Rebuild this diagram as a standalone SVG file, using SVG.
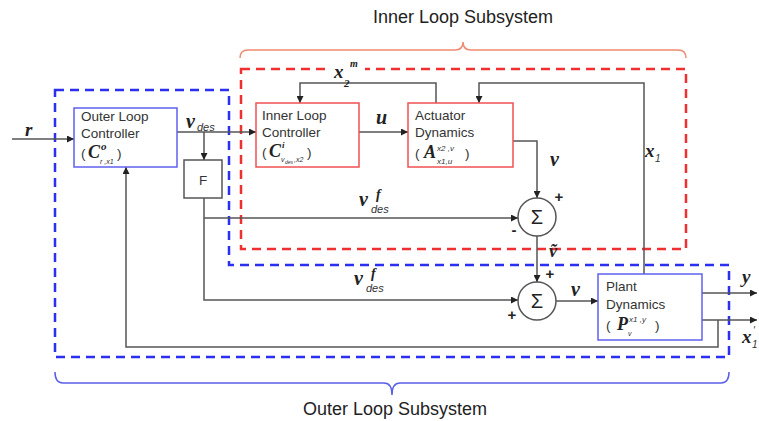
<svg xmlns="http://www.w3.org/2000/svg" width="759" height="421" viewBox="0 0 759 421">
<style>
.bx{font-family:"Liberation Sans",Arial,sans-serif;font-size:13.5px;fill:#333}
.m{font-family:"Liberation Serif","Times New Roman",serif;font-style:italic;font-weight:bold;fill:#222}
.s{font-family:"Liberation Sans",Arial,sans-serif;font-style:italic;fill:#333}
.c{fill:none;stroke:#555;stroke-width:1.5}
.lbl{font-family:"Liberation Sans",Arial,sans-serif;font-size:18px;fill:#222;text-anchor:middle}
.pm{font-family:"Liberation Sans",Arial,sans-serif;font-size:15px;font-weight:bold;fill:#222;text-anchor:middle}
.sig{font-family:"Liberation Sans",Arial,sans-serif;font-size:20px;fill:#222;text-anchor:middle}
</style>
<defs>
<marker id="ar" viewBox="0 0 10 10" refX="10" refY="5" markerWidth="7" markerHeight="7" markerUnits="userSpaceOnUse" orient="auto">
<path d="M0,0 L10,5 L0,10 z" fill="#222"/>
</marker>
</defs>
<rect width="759" height="421" fill="#fff"/>

<g id="outer-loop-region">
<path d="M55,90 H229 V265 H729 V357 H55 Z" fill="none" stroke="#2b2ff0" stroke-width="2.5" stroke-dasharray="9,6"/>
<path d="M55,372 Q55,383 63,383 H384 Q392,383 392,395 Q392,383 400,383 H721 Q729,383 729,372" fill="none" stroke="#5a60e8" stroke-width="1.5"/>
<text class="lbl" x="395" y="415">Outer Loop Subsystem</text>
</g>

<g id="inner-loop-region">
<rect x="241" y="69" width="445" height="180" fill="none" stroke="#f03030" stroke-width="2.5" stroke-dasharray="9,6"/>
<path d="M240,58 Q240,50 248,50 H455 Q463,50 463,42 Q463,50 471,50 H678 Q686,50 686,58" fill="none" stroke="#f08a70" stroke-width="1.5"/>
<text class="lbl" x="463" y="23">Inner Loop Subsystem</text>
</g>

<g id="connectors">
<path class="c" d="M12,139 H74" marker-end="url(#ar)"/>
<path class="c" d="M177,132 H256" marker-end="url(#ar)"/>
<path class="c" d="M204,132 V160" marker-end="url(#ar)"/>
<path class="c" d="M204,198 V300 H518" marker-end="url(#ar)"/>
<path class="c" d="M204,218 H518" marker-end="url(#ar)"/>
<path class="c" d="M359,132 H408" marker-end="url(#ar)"/>
<path class="c" d="M436,103 V83 H300 V103" marker-end="url(#ar)"/>
<path class="c" d="M644,274 V83 H479 V103" marker-end="url(#ar)"/>
<path class="c" d="M513,141 H537 V198" marker-end="url(#ar)"/>
<path class="c" d="M537,236 V282" marker-end="url(#ar)"/>
<path class="c" d="M556,301 H598" marker-end="url(#ar)"/>
<path class="c" d="M702,293 H757" marker-end="url(#ar)"/>
<path class="c" d="M702,320 H757" marker-end="url(#ar)"/>
<path class="c" d="M718,320 V347 H126 V167" marker-end="url(#ar)"/>
</g>

<g id="labels">
<text class="m" x="25" y="136" font-size="19">r</text>
<text class="m" x="186" y="128" font-size="20">v</text>
<text class="s" x="197" y="131" font-size="11">des</text>
<text class="m" x="376" y="124" font-size="20">u</text>
<text class="m" x="550" y="166" font-size="20">v</text>
<text class="m" x="359" y="206" font-size="20">v</text>
<text class="m" x="376" y="199" font-size="14">f</text>
<text class="s" x="371" y="213" font-size="11">des</text>
<text class="m" x="354" y="285" font-size="20">v</text>
<text class="m" x="371" y="278" font-size="14">f</text>
<text class="s" x="366" y="292" font-size="11">des</text>
<text class="m" x="549" y="257" font-size="18">v&#x303;</text>
<text class="m" x="571" y="296" font-size="20">v</text>
<text class="m" x="645" y="157" font-size="19">x</text>
<text class="s" x="655" y="162" font-size="10">1</text>
<text class="m" x="742" y="283" font-size="19">y</text>
<text class="m" x="742" y="343" font-size="19">x</text>
<text class="s" x="752" y="348" font-size="10">1</text>
<text class="s" x="753" y="334" font-size="10">'</text>
<rect x="331" y="64" width="34" height="10" fill="#fff"/>
<text class="m" x="334" y="78" font-size="19">x</text>
<text class="m" x="344" y="87" font-size="11">2</text>
<text class="m" x="350" y="67" font-size="10">m</text>
<text class="pm" x="559" y="202">+</text>
<text class="pm" x="514" y="235">-</text>
<text class="pm" x="550" y="279">+</text>
<text class="pm" x="512" y="320">+</text>
</g>

<g id="outer-loop-controller">
<rect x="74" y="108" width="103" height="59" fill="#fff" stroke="#6060f0" stroke-width="1.5"/>
<text class="bx" x="81" y="121">Outer Loop</text>
<text class="bx" x="81" y="138">Controller</text>
<text class="bx" x="81" y="158">(</text>
<text class="m" x="88" y="158" font-size="18">C</text>
<text class="m" x="101" y="150" font-size="11">o</text>
<text class="s" x="100" y="164" font-size="7">r ,x1</text>
<text class="bx" x="117" y="158">)</text>
</g>

<g id="filter-F">
<rect x="184" y="160" width="38" height="38" fill="#fff" stroke="#555" stroke-width="1.5"/>
<text class="bx" x="203" y="185" text-anchor="middle" font-size="15">F</text>
</g>

<g id="inner-loop-controller">
<rect x="256" y="103" width="103" height="64" fill="#fff" stroke="#f05050" stroke-width="1.5"/>
<text class="bx" x="262" y="120">Inner Loop</text>
<text class="bx" x="262" y="137">Controller</text>
<text class="bx" x="262" y="157">(</text>
<text class="m" x="269" y="157" font-size="18">C</text>
<text class="m" x="282" y="148" font-size="9">i</text>
<text class="s" x="281" y="162" font-size="7">v</text>
<text class="s" x="285" y="164" font-size="5">des</text>
<text class="s" x="294" y="162" font-size="7">,x2</text>
<text class="bx" x="307" y="157">)</text>
</g>

<g id="actuator-dynamics">
<rect x="408" y="103" width="105" height="64" fill="#fff" stroke="#f05050" stroke-width="1.5"/>
<text class="bx" x="415" y="120">Actuator</text>
<text class="bx" x="415" y="137">Dynamics</text>
<text class="bx" x="415" y="158">(</text>
<text class="m" x="424" y="158" font-size="18">A</text>
<text class="s" x="437" y="151" font-size="8">x2 ,v</text>
<text class="s" x="437" y="164" font-size="8">x1,u</text>
<text class="bx" x="465" y="158">)</text>
</g>

<g id="sum-1">
<circle cx="537" cy="217" r="19" fill="#fff" stroke="#555" stroke-width="1.5"/>
<text class="sig" x="537" y="224">Σ</text>
</g>

<g id="sum-2">
<circle cx="537" cy="301" r="19" fill="#fff" stroke="#555" stroke-width="1.5"/>
<text class="sig" x="537" y="308">Σ</text>
</g>

<g id="plant-dynamics">
<rect x="598" y="274" width="104" height="66" fill="#fff" stroke="#6060f0" stroke-width="1.5"/>
<text class="bx" x="606" y="291">Plant</text>
<text class="bx" x="606" y="309">Dynamics</text>
<text class="bx" x="606" y="330">(</text>
<text class="m" x="617" y="330" font-size="18">P</text>
<text class="s" x="628" y="336" font-size="7">v</text>
<text class="s" x="629" y="322" font-size="8">x1 ,y</text>
<text class="bx" x="655" y="330">)</text>
</g>
</svg>
